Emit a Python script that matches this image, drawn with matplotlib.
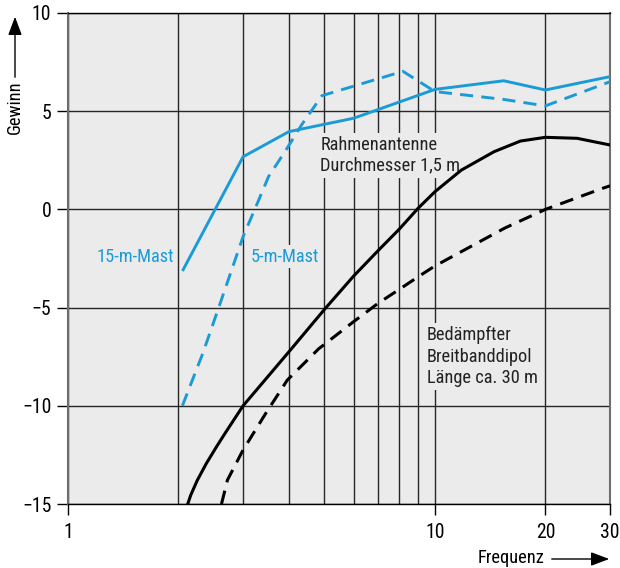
"""Gain vs frequency for mast and antenna variants (log frequency axis)."""

import matplotlib
import matplotlib.pyplot as plt
from matplotlib import font_manager

matplotlib.use("Agg")

available = {f.name for f in font_manager.fontManager.ttflist}
narrow = [n for n in ["Liberation Sans Narrow", "DejaVu Sans Condensed", "Roboto Condensed"]
          if n in available]
plt.rcParams["font.family"] = narrow + ["Roboto", "DejaVu Sans"]
FS = 13.2 if narrow else 11.5

# 15-m-Mast (solid blue)
mast15_f = [2.06, 3.0, 4.0, 6.0, 10.0, 15.4, 20.0, 30.0]
mast15_g = [-3.07, 2.68, 3.96, 4.64, 6.11, 6.55, 6.08, 6.76]

# 5-m-Mast (dashed blue)
mast5_f = [2.05, 2.33, 2.58, 3.0, 3.31, 3.52, 3.92, 4.33, 4.92, 8.18, 10.0, 15.4, 20.0, 30.0]
mast5_g = [-10.0, -7.33, -4.95, -1.39, 0.48, 1.67, 3.0, 4.3, 5.79, 7.03, 6.0, 5.6, 5.27, 6.5]

# Rahmenantenne (solid black)
loop_f = [2.12, 2.16, 2.25, 2.38, 2.54, 2.69, 3.0, 4.0, 5.0, 6.0, 7.0, 8.0, 9.0, 10.0,
          11.8, 14.5, 17.1, 20.0, 24.4, 30.0]
loop_g = [-15.0, -14.55, -13.8, -12.95, -12.08, -11.35, -10.0, -7.25, -5.09, -3.4, -2.1,
          -1.0, 0.06, 0.9, 2.0, 2.94, 3.48, 3.67, 3.62, 3.28]

# Breitbanddipol (dashed black)
dipole_f = [2.62, 2.72, 3.0, 3.46, 3.96, 4.82, 6.0, 7.0, 8.0, 9.0, 10.0, 15.5, 20.0, 28.6, 30.0]
dipole_g = [-15.0, -13.78, -12.25, -10.38, -8.69, -7.1, -5.72, -4.78, -4.07, -3.43, -2.88,
            -0.95, 0.0, 1.07, 1.2]

x_major = [1, 10, 20, 30]
x_minor = [2, 3, 4, 5, 6, 7, 8, 9]
y_ticks = [-15, -10, -5, 0, 5, 10]

BLUE = "#1a9bd7"
BG = "#ebebeb"

fig = plt.figure(figsize=(6.2, 5.68), dpi=100)
ax = fig.add_axes([68 / 620, 64 / 568, 542 / 620, 491 / 568])
ax.set_facecolor(BG)

ax.plot(mast15_f, mast15_g, color=BLUE, lw=2.1, zorder=4, solid_joinstyle="round")
ax.plot(mast5_f, mast5_g, color=BLUE, lw=2.1, dashes=(4.5, 2.8), zorder=4)
ax.plot(loop_f, loop_g, color="black", lw=2.2, zorder=4, solid_joinstyle="round")
ax.plot(dipole_f, dipole_g, color="black", lw=2.2, dashes=(4.5, 2.8), zorder=4)

ax.set_xscale("log")
ax.set_xlim(1, 30)
ax.set_ylim(-15, 10)
ax.set_xticks(x_major)
ax.set_xticklabels([str(v) for v in x_major])
ax.set_xticks(x_minor, minor=True)
ax.set_yticks(y_ticks)
ax.set_yticklabels([str(v).replace("-", "\u2212") for v in y_ticks])
ax.tick_params(axis="both", which="major", length=8, width=1, labelsize=FS + 1, color="black")
ax.tick_params(axis="x", which="minor", length=0)
ax.tick_params(axis="x", which="major", pad=6)
ax.tick_params(axis="y", which="major", pad=4)

ax.grid(True, which="both", axis="x", color="#262626", lw=1.0, zorder=1)
ax.grid(True, which="major", axis="y", color="#262626", lw=1.0, zorder=1)
ax.set_axisbelow(True)
for side in ["left", "right"]:
    ax.spines[side].set_color("#6e6e6e")
    ax.spines[side].set_linewidth(1.5)
for side in ["top", "bottom"]:
    ax.spines[side].set_color("black")
    ax.spines[side].set_linewidth(1.0)

box = dict(facecolor=BG, edgecolor="none", pad=2)
ax.text(1.95, -2.4, "15-m-Mast", color=BLUE, fontsize=FS, ha="right", va="center", zorder=3)
ax.text(3.15, -2.4, "5-m-Mast", color=BLUE, fontsize=FS, ha="left", va="center",
        bbox=box, zorder=3)
ax.text(4.87, 2.75, "Rahmenantenne\nDurchmesser 1,5 m", color="#222222", fontsize=FS,
        ha="left", va="center", linespacing=1.2, bbox=box, zorder=3)
ax.text(9.5, -7.5, "Bedämpfter\nBreitbanddipol\nLänge ca. 30 m", color="#222222",
        fontsize=FS, ha="left", va="center", linespacing=1.25, bbox=box, zorder=3)

# axis captions with arrows
fig.text(15 / 620, 1 - 107 / 568, "Gewinn", rotation=90, fontsize=FS,
         ha="center", va="center")
fig.add_artist(matplotlib.patches.FancyArrowPatch(
    (15 / 620, 1 - 80 / 568), (15 / 620, 1 - 14 / 568), transform=fig.transFigure,
    arrowstyle="-|>,head_length=0.8,head_width=0.3", mutation_scale=14,
    color="black", lw=1.0))
fig.text(511 / 620, 1 - 558 / 568, "Frequenz", fontsize=FS, ha="center", va="center")
fig.add_artist(matplotlib.patches.FancyArrowPatch(
    (549 / 620, 1 - 559 / 568), (612 / 620, 1 - 559 / 568), transform=fig.transFigure,
    arrowstyle="-|>,head_length=0.8,head_width=0.3", mutation_scale=14,
    color="black", lw=1.0))

fig.savefig("out.png", dpi=100)
